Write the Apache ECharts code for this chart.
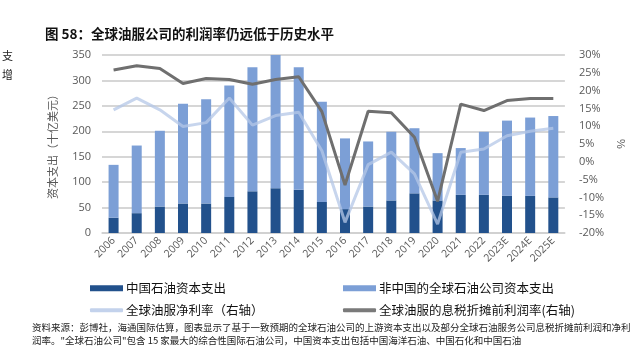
<!DOCTYPE html>
<html><head><meta charset="utf-8">
<script src="https://cdn.jsdelivr.net/npm/echarts@6/dist/echarts.min.js"></script>
<style>html,body{margin:0;padding:0;background:#fff}#c{width:634px;height:355px}</style>
</head><body><div id="c"></div>
<script>
var categories = ['2006','2007','2008','2009','2010','2011','2012','2013','2014','2015','2016','2017','2018','2019','2020','2021','2022','2023E','2024E','2025E'];
var chinaCapex = [30,39,52,58,58,71,82,88,85,61,47,52,64,78,64,75,75,73,73,70];
var totalCapex = [134,172,201,254,263,290,326,350,326,258,186,180,199,206,157,167,199,221,227,230];
var nonChinaCapex = totalCapex.map(function(t,i){return t - chinaCapex[i];});
var netMargin = [14.6,17.9,14.6,9.9,11.0,17.9,10.3,13.0,13.9,3.1,-17,-0.8,2.7,-3.4,-17.5,2.7,3.6,7.3,8.6,9.4];
var ebitdaMargin = [25.8,27.0,26.2,22.0,23.4,23.1,21.8,23.1,23.9,14.1,-6.5,14.2,13.8,6.9,-11.1,16.2,14.4,17.2,17.8,17.8];
var leftTicks = [0,350,50];
var rightTicks = [-20,30,5];

var CJK = '"Noto Sans CJK SC", sans-serif';
var grayText = '#595959';
var chart = echarts.init(document.getElementById('c'));
function lg(name, left, top, icon, h){
  return {show:true, data:[{name:name, icon:icon}], left:left, top:top, itemWidth:33, itemHeight:h, itemGap:0,
    textStyle:{fontFamily:CJK, fontSize:12.5, color:'#111', padding:[0,0,0,-2]}, selectedMode:false};
}
chart.setOption({
  animation:false,
  title:{text:'图 58：全球油服公司的利润率仍远低于历史水平', left:40, top:22,
    textStyle:{fontFamily:CJK, fontSize:13.5, fontWeight:'bold', color:'#111'}},
  grid:{left:102, right:61, top:55, bottom:122},
  legend:[
    lg('中国石油资本支出', 85, 277, 'rect', 6),
    lg('非中国的全球石油公司资本支出', 338, 277, 'rect', 6),
    lg('全球油服净利率（右轴）', 85, 299, 'roundRect', 4),
    lg('全球油服的息税折摊前利润率(右轴)', 338, 299, 'roundRect', 4)
  ],
  xAxis:{type:'category', data:categories, boundaryGap:true,
    axisLine:{show:true, lineStyle:{color:'#d0d0d0', width:1.5}}, axisTick:{show:false},
    axisLabel:{rotate:45, fontSize:10.5, color:grayText, fontFamily:'"Open Sans", sans-serif', margin:6, interval:0}},
  yAxis:[
    {type:'value', min:leftTicks[0], max:leftTicks[1], interval:leftTicks[2],
     name:'资本支出（十亿美元）', nameLocation:'middle', nameGap:44,
     nameTextStyle:{fontFamily:CJK, fontSize:11, color:grayText},
     axisLabel:{fontSize:11, color:grayText, fontFamily:'"Open Sans", sans-serif', margin:11},
     splitLine:{lineStyle:{color:'#c8c8c8', width:1.5}}, axisLine:{show:false}, axisTick:{show:false}},
    {type:'value', min:rightTicks[0], max:rightTicks[1], interval:rightTicks[2],
     name:'%', nameLocation:'middle', nameGap:48, nameRotate:-90,
     nameTextStyle:{fontSize:11, color:grayText},
     axisLabel:{formatter:'{value}%', fontSize:11, color:grayText, fontFamily:'"Open Sans", sans-serif', margin:14},
     splitLine:{show:false}, axisLine:{show:false}, axisTick:{show:false}}
  ],
  series:[
    {name:'中国石油资本支出', type:'bar', stack:'capex', data:chinaCapex, barWidth:10, itemStyle:{color:'#22518c'}},
    {name:'非中国的全球石油公司资本支出', type:'bar', stack:'capex', data:nonChinaCapex, barWidth:10, itemStyle:{color:'#7c9fd6'}},
    {name:'全球油服净利率（右轴）', type:'line', yAxisIndex:1, data:netMargin, symbol:'none',
     lineStyle:{color:'#b4c7e7', width:3, opacity:0.75}, itemStyle:{color:'#c3d2ec'}},
    {name:'全球油服的息税折摊前利润率(右轴)', type:'line', yAxisIndex:1, data:ebitdaMargin, symbol:'none',
     lineStyle:{color:'#6f6f6f', width:3}, itemStyle:{color:'#7a7a7a'}}
  ],
  graphic:[
    {type:'text', left:2, top:50, style:{text:'支', fontFamily:CJK, fontSize:11, fill:'#222'}},
    {type:'text', left:2, top:69, style:{text:'增', fontFamily:CJK, fontSize:11, fill:'#222'}},
    {type:'text', left:32, top:323, style:{text:'资料来源：彭博社，海通国际估算，图表显示了基于一致预期的全球石油公司的上游资本支出以及部分全球石油服务公司息税折摊前利润和净利', fontFamily:CJK, fontSize:9.5, fill:'#222'}},
    {type:'text', left:32, top:336, style:{text:'润率。"全球石油公司"包含 15 家最大的综合性国际石油公司，中国资本支出包括中国海洋石油、中国石化和中国石油', fontFamily:CJK, fontSize:9.5, fill:'#222'}}
  ]
});
</script></body></html>
